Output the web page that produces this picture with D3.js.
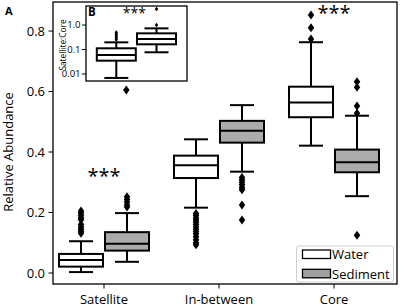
<!DOCTYPE html>
<html><head><meta charset="utf-8">
<script src="https://cdn.jsdelivr.net/npm/d3@7"></script>
<style>body{margin:0;background:#fff}svg{display:block;font-family:"Open Sans",sans-serif}</style>
</head><body><svg id="c" width="401" height="308"></svg>
<script>
// ---- data ----
const categories = ["Satellite", "In-between", "Core"];
const seriesNames = ["Water", "Sediment"];
// [lower whisker, q1, median, q3, upper whisker]
const waterStats = [[0.003, 0.021, 0.043, 0.063, 0.105], [0.216, 0.314, 0.356, 0.388, 0.442], [0.421, 0.515, 0.564, 0.616, 0.763]];
const sedimentStats = [[0.037, 0.074, 0.097, 0.135, 0.198], [0.335, 0.431, 0.470, 0.503, 0.555], [0.254, 0.333, 0.366, 0.408, 0.520]];
const waterFliers = [[0.205, 0.198, 0.19, 0.183, 0.176, 0.16, 0.152, 0.145, 0.138, 0.131],
  [0.197, 0.19, 0.182, 0.175, 0.168, 0.16, 0.152, 0.145, 0.137, 0.13, 0.12, 0.11, 0.1, 0.093],
  [0.853, 0.811, 0.774]];
const sedimentFliers = [[0.252, 0.243, 0.235, 0.225, 0.218],
  [0.316, 0.308, 0.3, 0.292, 0.283, 0.275, 0.225, 0.175],
  [0.632, 0.614, 0.552, 0.528, 0.125]];
const yTicks = [0.0, 0.2, 0.4, 0.6, 0.8];
const sigCategories = ["Satellite", "Core"];
// inset B: Satellite:Core ratio (log scale)
const insetSeries = ["Water", "Sediment"];
const insetStats = [[0.0069, 0.035, 0.060, 0.112, 0.196], [0.077, 0.163, 0.268, 0.457, 0.73]];
const insetFliers = [[0.5, 0.42, 0.36, 0.3, 0.25], [1.0, 4.5]];
const insetLowFlier = [0.0022];
const insetTicks = [1.0, 0.1, 0.01];
const insetTickLabels = ["1.0", "0.1", "0.01"];

// ---- layout ----
const svg = d3.select("#c");
const L = 53, R = 397, T = 2, B = 284;
const x = d3.scaleLinear().domain([0, 2]).range([104, 334]);
const y = d3.scaleLinear().domain([-0.0364, 0.896]).range([B, T]);
const boxW = 46;
const fills = ["#ffffff", "#ababab"];

function diamond(g, cx, cy, w, h) {
  g.append("path").attr("d", `M${cx},${cy - h / 2}L${cx + w / 2},${cy}L${cx},${cy + h / 2}L${cx - w / 2},${cy}Z`).attr("fill", "#000");
}
function drawBox(g, cx, w, s, ys, fill, capW, lw) {
  g.append("line").attr("x1", cx).attr("x2", cx).attr("y1", ys(s[0])).attr("y2", ys(s[1])).attr("stroke", "#000").attr("stroke-width", lw);
  g.append("line").attr("x1", cx).attr("x2", cx).attr("y1", ys(s[3])).attr("y2", ys(s[4])).attr("stroke", "#000").attr("stroke-width", lw);
  [s[0], s[4]].forEach(v => g.append("line").attr("x1", cx - capW / 2).attr("x2", cx + capW / 2).attr("y1", ys(v)).attr("y2", ys(v)).attr("stroke", "#000").attr("stroke-width", lw));
  g.append("rect").attr("x", cx - w / 2 + 1).attr("width", w - 2).attr("y", ys(s[3])).attr("height", ys(s[1]) - ys(s[3]))
    .attr("fill", fill).attr("stroke", "#000").attr("stroke-width", lw);
  g.append("line").attr("x1", cx - w / 2 + 1).attr("x2", cx + w / 2 - 1).attr("y1", ys(s[2])).attr("y2", ys(s[2])).attr("stroke", "#000").attr("stroke-width", lw);
}

const g = svg.append("g");
// boxes
[waterStats, sedimentStats].forEach((stats, si) => {
  stats.forEach((s, ci) => {
    const cx = x(ci) + (si === 0 ? -boxW / 2 : boxW / 2);
    drawBox(g, cx, boxW, s, y, fills[si], 24, 2);
    const fl = si === 0 ? waterFliers[ci] : sedimentFliers[ci];
    fl.forEach(v => diamond(g, cx, y(v), 6.5, 9));
  });
});

// frame
svg.append("rect").attr("x", L).attr("y", T).attr("width", R - L).attr("height", B - T).attr("fill", "none").attr("stroke", "#000").attr("stroke-width", 1.3);

// y axis
const ya = svg.append("g");
yTicks.forEach(t => {
  ya.append("line").attr("x1", L - 4.5).attr("x2", L).attr("y1", y(t)).attr("y2", y(t)).attr("stroke", "#000").attr("stroke-width", 1);
  ya.append("text").attr("x", L - 8).attr("y", y(t)).attr("dy", "0.35em").attr("text-anchor", "end").attr("font-size", 13).text(t.toFixed(1));
});
svg.append("text").attr("transform", "translate(13,152) rotate(-90)").attr("text-anchor", "middle").attr("font-size", 13).text("Relative Abundance");

// x axis
categories.forEach((c, i) => {
  svg.append("line").attr("x1", x(i)).attr("x2", x(i)).attr("y1", B).attr("y2", B + 4.5).attr("stroke", "#000").attr("stroke-width", 1);
  svg.append("text").attr("x", x(i)).attr("y", 304).attr("text-anchor", "middle").attr("font-size", 13).text(c);
});

// significance stars
const sigY = {"Satellite": 0.335, "Core": 0.873};
sigCategories.forEach(c => {
  const i = categories.indexOf(c);
  svg.append("text").attr("x", x(i)).attr("y", y(sigY[c]) + 11).attr("text-anchor", "middle").attr("font-size", 20).text("***");
});

svg.append("text").attr("x", 5).attr("y", 15).attr("font-size", 11).attr("font-weight", "bold").text("A");

// legend
const lg = svg.append("g");
lg.append("rect").attr("x", 296.5).attr("y", 246).attr("width", 97).attr("height", 36).attr("rx", 2).attr("fill", "#fff").attr("fill-opacity", 0.85).attr("stroke", "#d0d0d0").attr("stroke-width", 1);
seriesNames.forEach((n, i) => {
  const yy = 250 + i * 19.3;
  lg.append("rect").attr("x", 302.5).attr("y", yy).attr("width", 28).attr("height", 8.5).attr("fill", i === 0 ? "#fff" : "#a0a0a0").attr("stroke", "#000").attr("stroke-width", 1.3);
  lg.append("text").attr("x", 332).attr("y", yy + 9.3).attr("font-size", 13).text(n);
});

// ---- inset B ----
const iL = 86, iR = 187, iT = 6, iB = 81;
const yi = d3.scaleLog().domain([0.00518, 5.97]).range([iB, iT]);
const xi = d3.scaleLinear().domain([0, 1]).range([116.3, 156.5]);
const ig = svg.append("g");
ig.append("rect").attr("x", iL).attr("y", iT).attr("width", iR - iL).attr("height", iB - iT).attr("fill", "#fff");
const clip = svg.append("clipPath").attr("id", "ic").append("rect").attr("x", iL).attr("y", iT).attr("width", iR - iL).attr("height", iB - iT);
const igc = ig.append("g").attr("clip-path", "url(#ic)");
insetStats.forEach((s, i) => {
  drawBox(igc, xi(i), 41, s, yi, "#fff", 24, 2);
  insetFliers[i].forEach(v => diamond(igc, xi(i), yi(v), 3.5, 4.5));
});
insetLowFlier.forEach(v => diamond(ig, xi(0) + 10, yi(v), 6.5, 9));
ig.append("rect").attr("x", iL).attr("y", iT).attr("width", iR - iL).attr("height", iB - iT).attr("fill", "none").attr("stroke", "#000").attr("stroke-width", 1.3);
insetTicks.forEach((t, i) => {
  ig.append("line").attr("x1", iL - 4).attr("x2", iL).attr("y1", yi(t)).attr("y2", yi(t)).attr("stroke", "#000");
  ig.append("text").attr("x", iL - 5.5).attr("y", yi(t)).attr("dy", "0.35em").attr("text-anchor", "end").attr("font-size", 9.5).text(insetTickLabels[i]);
});
ig.append("text").attr("transform", "translate(66,45) rotate(-90)").attr("text-anchor", "middle").attr("font-size", 8.3).text("Satellite:Core");
ig.append("text").attr("x", 88).attr("y", 16).attr("font-size", 11.5).attr("font-weight", "bold").text("B");
ig.append("text").attr("x", (xi(0) + xi(1)) / 2 - 2).attr("y", 18).attr("text-anchor", "middle").attr("font-size", 14).text("***");
</script></body></html>
